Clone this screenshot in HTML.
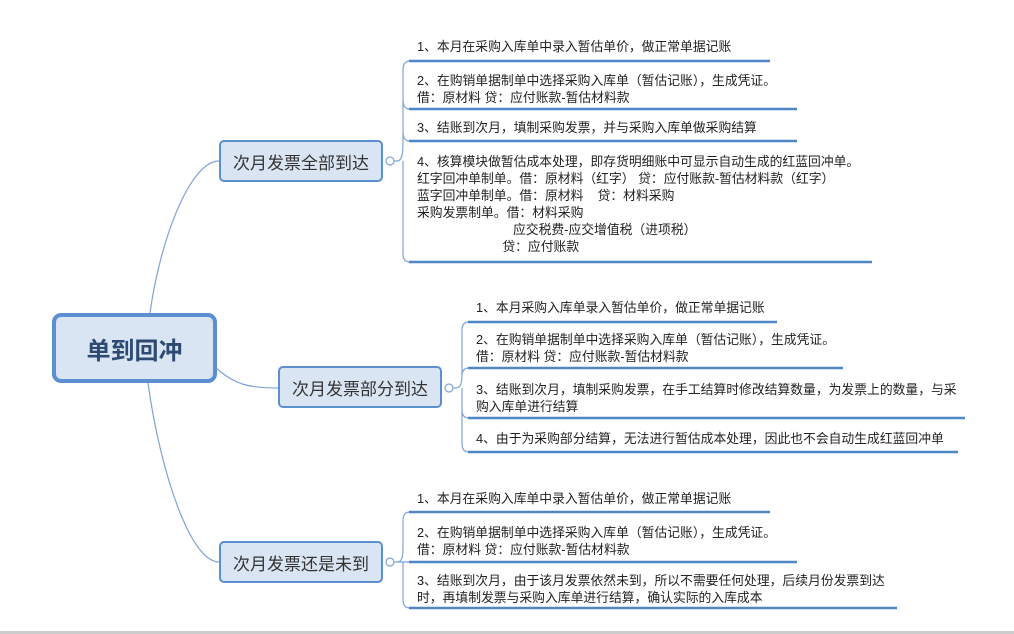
<!DOCTYPE html>
<html><head><meta charset="utf-8"><style>
body{margin:0;width:1014px;height:634px;background:#fff;position:relative;overflow:hidden;font-family:"Liberation Sans","Noto Sans CJK SC",sans-serif;}
.t{position:absolute;font-size:12.8px;line-height:17px;color:#222;white-space:pre;}
.b{position:absolute;box-sizing:border-box;background:#dae5f3;border:2px solid #5b8fd0;border-radius:5px;font-size:17px;color:#333;display:flex;align-items:center;justify-content:center;}
.bar{position:absolute;left:0;top:631px;width:1014px;height:3px;background:#ccc;}
</style></head><body>
<svg width="1014" height="634" style="position:absolute;left:0;top:0" fill="none">
<g stroke="#7ea3d6" stroke-width="1.2">
<path d="M150 313 C160 240,190 161,219 161"/>
<path d="M216 368 C235 385,250 388,278 388"/>
<path d="M148 383 C160 470,190 562,219 562"/>
<path d="M390 161 H397"/><path d="M449 388 H456"/><path d="M390 562 H397"/>
<path d="M397 161 C403 161,403 150,403 140 V70 Q403 61,410 61"/>
<path d="M403 100 Q403 109,410 109"/><path d="M403 132 Q403 141,410 141"/>
<path d="M403 161 V254 Q403 262,410 262"/>
<path d="M456 388 C462 388,462 380,462 370 V330 Q462 322,469 322"/>
<path d="M462 376 Q462 368,469 368 M462 388 V410 Q462 418,469 418 M462 410 V444 Q462 452,469 452"/>
<path d="M397 562 C403 562,403 555,403 545 V520 Q403 512,410 512 M397 562 H410 M403 562 V600 Q403 608,410 608"/>
<circle cx="390" cy="161" r="4" fill="#fff"/><circle cx="449" cy="388" r="4" fill="#fff"/><circle cx="390" cy="562" r="4" fill="#fff"/>
</g>
<g stroke="#4f86c6" stroke-width="2.5">
<path d="M409 61H770 M409 109H797 M409 141H797 M409 262H872"/>
<path d="M468 322H777 M468 368H843 M468 418H965 M468 452H958"/>
<path d="M409 512H770 M409 562H797 M409 608H897"/>
</g>
</svg>
<div class="b" style="left:52px;top:313px;width:165px;height:70px;border-width:4px;border-radius:9px;font-size:24px;font-weight:bold;color:#2c4a72">单到回冲</div>
<div class="b" style="left:219px;top:140px;width:164px;height:42px">次月发票全部到达</div>
<div class="b" style="left:278px;top:366px;width:164px;height:42px">次月发票部分到达</div>
<div class="b" style="left:219px;top:541px;width:164px;height:42px">次月发票还是未到</div>

<div class="t" style="left:417px;top:38px">1、本月在采购入库单中录入暂估单价，做正常单据记账</div>
<div class="t" style="left:417px;top:72px">2、在购销单据制单中选择采购入库单（暂估记账），生成凭证。
借：原材料 贷：应付账款-暂估材料款</div>
<div class="t" style="left:417px;top:119px">3、结账到次月，填制采购发票，并与采购入库单做采购结算</div>
<div class="t" style="left:417px;top:153px">4、核算模块做暂估成本处理，即存货明细账中可显示自动生成的红蓝回冲单。
红字回冲单制单。借：原材料（红字） 贷：应付账款-暂估材料款（红字）
蓝字回冲单制单。借：原材料    贷：材料采购
采购发票制单。借：材料采购
                           应交税费-应交增值税（进项税）
                        贷：应付账款</div>

<div class="t" style="left:476px;top:299px">1、本月采购入库单录入暂估单价，做正常单据记账</div>
<div class="t" style="left:476px;top:331px">2、在购销单据制单中选择采购入库单（暂估记账），生成凭证。
借：原材料 贷：应付账款-暂估材料款</div>
<div class="t" style="left:476px;top:381px">3、结账到次月，填制采购发票，在手工结算时修改结算数量，为发票上的数量，与采
购入库单进行结算</div>
<div class="t" style="left:476px;top:430px">4、由于为采购部分结算，无法进行暂估成本处理，因此也不会自动生成红蓝回冲单</div>

<div class="t" style="left:417px;top:490px">1、本月在采购入库单中录入暂估单价，做正常单据记账</div>
<div class="t" style="left:417px;top:524px">2、在购销单据制单中选择采购入库单（暂估记账），生成凭证。
借：原材料 贷：应付账款-暂估材料款</div>
<div class="t" style="left:417px;top:572px">3、结账到次月，由于该月发票依然未到，所以不需要任何处理，后续月份发票到达
时，再填制发票与采购入库单进行结算，确认实际的入库成本</div>
<div class="bar"></div>
</body></html>
